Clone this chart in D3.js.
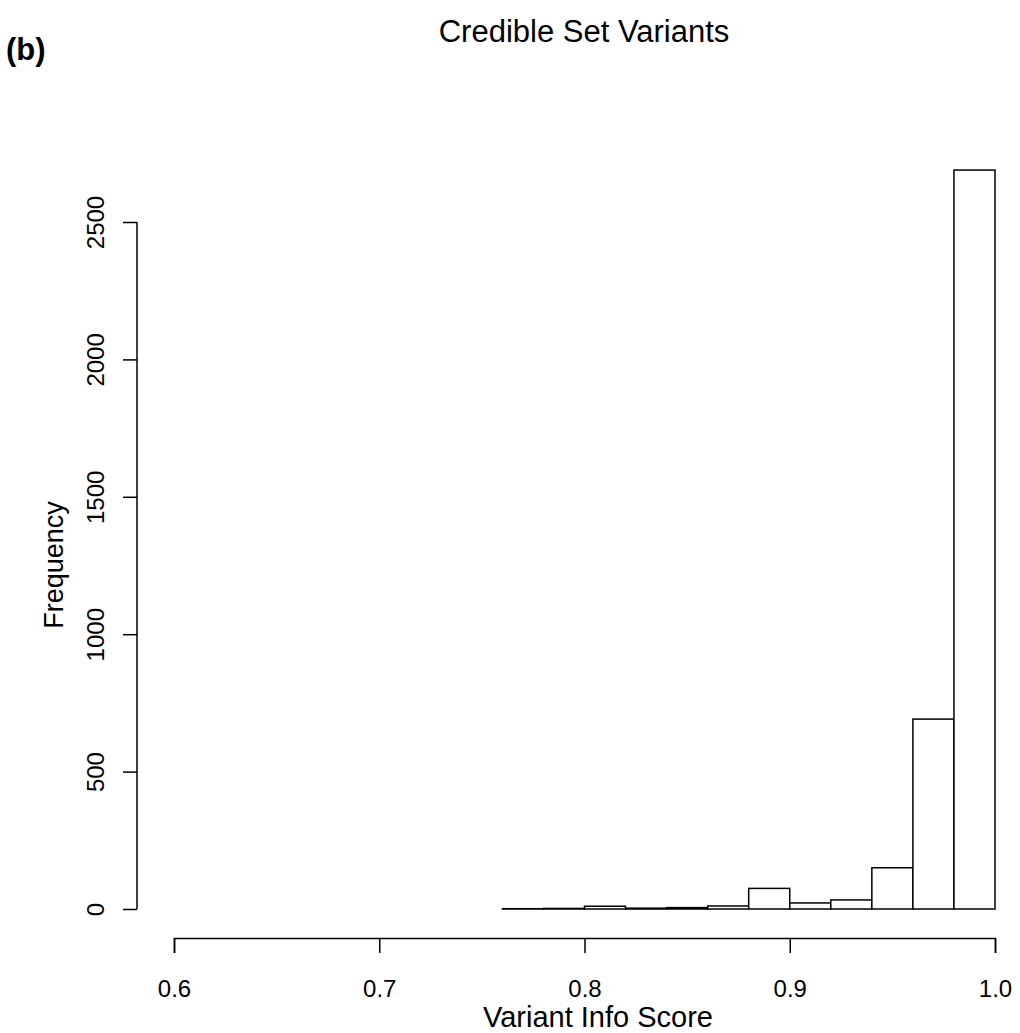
<!DOCTYPE html>
<html><head><meta charset="utf-8">
<script src="https://cdn.jsdelivr.net/npm/d3@7"></script>
<style>html,body{margin:0;background:#fff;overflow:hidden}svg{display:block}text{font-family:"Liberation Sans",Arial,sans-serif}</style>
</head><body>
<script>
const binStarts = [0.76,0.78,0.80,0.82,0.84,0.86,0.88,0.90,0.92,0.94,0.96,0.98];
const binWidth = 0.02;
const counts = [1,2,10,3,5,11,75,22,33,150,691,2689];
const xTicks = [0.6,0.7,0.8,0.9,1.0];
const yTicks = [0,500,1000,1500,2000,2500];

const W=1020,H=1033;
const svg=d3.select("body").append("svg").attr("width",W).attr("height",H);
const x=d3.scaleLinear().domain([0.6,1.0]).range([174,995]);
const y=d3.scaleLinear().domain([0,2500]).range([909,222]);
const FF="Liberation Sans, Arial, sans-serif";

svg.append("g").selectAll("rect").data(binStarts).enter().append("rect")
  .attr("x",d=>x(d)).attr("width",(d)=>x(d+binWidth)-x(d))
  .attr("y",(d,i)=>y(counts[i])).attr("height",(d,i)=>y(0)-y(counts[i]))
  .attr("fill","#fff").attr("stroke","#000").attr("stroke-width",1.5);

const xa=svg.append("g").attr("transform","translate(0,938)")
  .call(d3.axisBottom(x).tickValues(xTicks).tickFormat(d3.format(".1f")).tickSize(15).tickPadding(0));
xa.select(".domain").attr("stroke-width",1.5);
xa.selectAll(".tick line").attr("stroke-width",1.5);
xa.selectAll(".tick text").attr("font-size",24).attr("font-family",FF).attr("y",59).attr("dy",0);

const ya=svg.append("g").attr("transform","translate(137,0)")
  .call(d3.axisLeft(y).tickValues(yTicks).tickFormat(d3.format("d")).tickSize(14).tickPadding(0));
ya.select(".domain").attr("d","M-0,222V909").attr("stroke-width",1.5);
ya.selectAll(".tick line").attr("stroke-width",1.5);
ya.selectAll(".tick text").attr("font-size",24).attr("font-family",FF)
  .attr("transform","translate(-33,0) rotate(-90)").attr("x",0).attr("y",0).attr("dy",0).attr("text-anchor","middle");

svg.append("text").attr("x",584).attr("y",42).attr("text-anchor","middle").attr("font-size",31).text("Credible Set Variants");
svg.append("text").attr("x",6).attr("y",60).attr("font-size",31).attr("font-weight","bold").text("(b)");
svg.append("text").attr("x",598).attr("y",1027).attr("text-anchor","middle").attr("font-size",29).text("Variant Info Score");
svg.append("text").attr("transform","translate(63,565) rotate(-90)").attr("text-anchor","middle").attr("font-size",27).text("Frequency");
</script>
</body></html>
